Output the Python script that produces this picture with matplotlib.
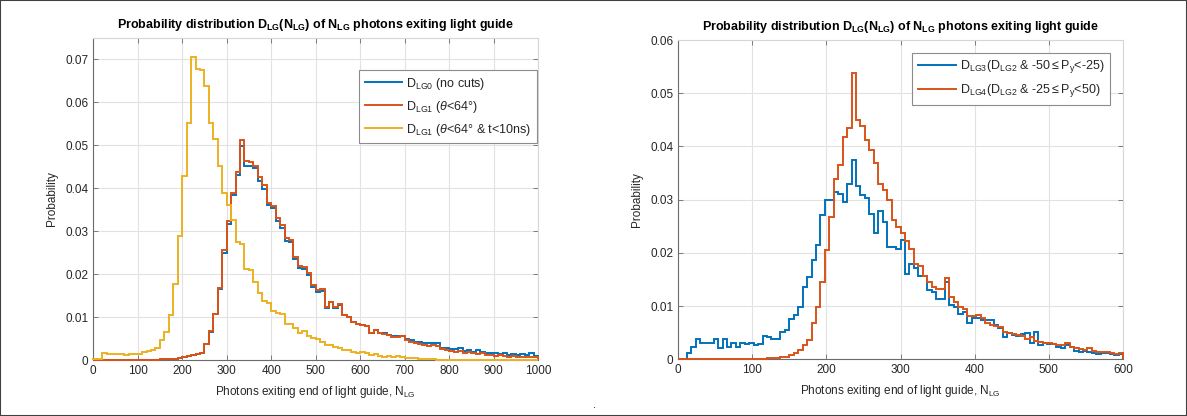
import numpy as np
import matplotlib
matplotlib.use("Agg")
import matplotlib.pyplot as plt
from matplotlib.lines import Line2D
from matplotlib.patches import Rectangle

plt.rcParams["font.family"] = ["Liberation Sans", "DejaVu Sans"]
plt.rcParams["mathtext.fontset"] = "custom"
plt.rcParams["mathtext.rm"] = "Liberation Sans"
plt.rcParams["mathtext.it"] = "Liberation Sans:italic"
plt.rcParams["mathtext.bf"] = "Liberation Sans:bold"

# left panel: 100 bins of width 10 from 0 to 1000
left_edges = np.arange(0, 1001, 10)
lg0_nocuts = [
    0, 0, 0, 0, 0, 0, 0, 0, 0, 0,
    0.0001, 0.0001, 0.0001, 0.0001, 0.0001, 0.0002, 0.0002, 0.0002, 0.0003, 0.0004,
    0.0007, 0.0009, 0.0011, 0.0013, 0.0017, 0.0037, 0.0066, 0.0106, 0.0165, 0.0249,
    0.0316, 0.0384, 0.0432, 0.0499, 0.0451, 0.0451, 0.0447, 0.0418, 0.0399, 0.0360,
    0.0354, 0.0324, 0.0307, 0.0278, 0.0275, 0.0235, 0.0214, 0.0211, 0.0198, 0.0171,
    0.0159, 0.0161, 0.0121, 0.0134, 0.0122, 0.0129, 0.0104, 0.0100, 0.0089, 0.0084,
    0.0082, 0.0080, 0.0063, 0.0071, 0.0063, 0.0062, 0.0059, 0.0056, 0.0055, 0.0057,
    0.0050, 0.0047, 0.0043, 0.0041, 0.0039, 0.0040, 0.0040, 0.0040, 0.0027, 0.0027,
    0.0025, 0.0025, 0.0027, 0.0022, 0.0023, 0.0019, 0.0023, 0.0019, 0.0016, 0.0017,
    0.0016, 0.0014, 0.0016, 0.0012, 0.0014, 0.0012, 0.0014, 0.0012, 0.0016, 0.0010,
]
lg1_theta = [
    0, 0, 0, 0, 0, 0, 0, 0, 0, 0,
    0.0001, 0.0001, 0.0001, 0.0001, 0.0001, 0.0002, 0.0002, 0.0002, 0.0003, 0.0004,
    0.0007, 0.0009, 0.0011, 0.0013, 0.0017, 0.0038, 0.0067, 0.0108, 0.0167, 0.0256,
    0.0323, 0.0390, 0.0439, 0.0512, 0.0463, 0.0460, 0.0453, 0.0426, 0.0408, 0.0365,
    0.0358, 0.0330, 0.0315, 0.0284, 0.0280, 0.0241, 0.0219, 0.0216, 0.0202, 0.0175,
    0.0163, 0.0165, 0.0124, 0.0136, 0.0124, 0.0131, 0.0105, 0.0101, 0.0089, 0.0084,
    0.0082, 0.0079, 0.0062, 0.0070, 0.0062, 0.0061, 0.0058, 0.0054, 0.0053, 0.0056,
    0.0047, 0.0043, 0.0040, 0.0037, 0.0035, 0.0033, 0.0035, 0.0033, 0.0025, 0.0023,
    0.0022, 0.0019, 0.0021, 0.0017, 0.0019, 0.0016, 0.0014, 0.0017, 0.0012, 0.0012,
    0.0009, 0.0011, 0.0009, 0.0008, 0.0009, 0.0006, 0.0008, 0.0006, 0.0008, 0.0006,
]
lg1_theta_t10 = [
    0.0002, 0.0002, 0.0016, 0.0015, 0.0015, 0.0014, 0.0015, 0.0012, 0.0014, 0.0013,
    0.0013, 0.0019, 0.0021, 0.0023, 0.0027, 0.0047, 0.0065, 0.0104, 0.0177, 0.0288,
    0.0429, 0.0551, 0.0706, 0.0678, 0.0675, 0.0639, 0.0551, 0.0515, 0.0451, 0.0389,
    0.0362, 0.0327, 0.0276, 0.0271, 0.0212, 0.0210, 0.0181, 0.0157, 0.0138, 0.0132,
    0.0115, 0.0109, 0.0106, 0.0085, 0.0084, 0.0074, 0.0064, 0.0068, 0.0056, 0.0051,
    0.0048, 0.0043, 0.0035, 0.0035, 0.0031, 0.0027, 0.0023, 0.0023, 0.0019, 0.0017,
    0.0019, 0.0016, 0.0012, 0.0013, 0.0009, 0.0008, 0.0009, 0.0008, 0.0009, 0.0008,
    0.0004, 0.0005, 0.0005, 0.0002, 0.0002, 0.0002, 0.0002, 0.0001, 0.0001, 0.0001,
    0.0001, 0.0001, 0.0001, 0.0001, 0.0001, 0.0001, 0.0001, 0.0001, 0.0001, 0.0001,
    0.0001, 0.0001, 0.0001, 0.0001, 0.0001, 0.0001, 0.0001, 0.0001, 0.0001, 0.0001,
]

# right panel: 100 bins of width 6 from 0 to 600
right_edges = np.arange(0, 601, 6)
lg3_py_low = [
    0.0000, 0.0001, 0.0011, 0.0024, 0.0038, 0.0031, 0.0031, 0.0031, 0.0038, 0.0021,
    0.0039, 0.0023, 0.0030, 0.0023, 0.0030, 0.0028, 0.0031, 0.0027, 0.0029, 0.0044,
    0.0041, 0.0039, 0.0038, 0.0052, 0.0055, 0.0075, 0.0083, 0.0099, 0.0135, 0.0155,
    0.0186, 0.0214, 0.0271, 0.0300, 0.0300, 0.0314, 0.0311, 0.0296, 0.0330, 0.0374,
    0.0325, 0.0308, 0.0303, 0.0273, 0.0238, 0.0279, 0.0258, 0.0211, 0.0211, 0.0208,
    0.0224, 0.0161, 0.0179, 0.0171, 0.0156, 0.0156, 0.0130, 0.0127, 0.0114, 0.0114,
    0.0146, 0.0102, 0.0098, 0.0085, 0.0089, 0.0068, 0.0077, 0.0077, 0.0073, 0.0073,
    0.0074, 0.0064, 0.0058, 0.0041, 0.0049, 0.0046, 0.0043, 0.0048, 0.0049, 0.0030,
    0.0052, 0.0027, 0.0030, 0.0029, 0.0028, 0.0023, 0.0021, 0.0027, 0.0023, 0.0016,
    0.0014, 0.0016, 0.0014, 0.0011, 0.0010, 0.0011, 0.0011, 0.0010, 0.0008, 0.0010,
]
lg4_py_high = [
    0, 0, 0, 0, 0, 0, 0, 0, 0, 0,
    0, 0, 0, 0, 0, 0, 0.0001, 0.0001, 0.0001, 0.0001,
    0.0002, 0.0002, 0.0003, 0.0004, 0.0005, 0.0009, 0.0012, 0.0018, 0.0027, 0.0036,
    0.0068, 0.0099, 0.0146, 0.0205, 0.0268, 0.0338, 0.0366, 0.0418, 0.0435, 0.0538,
    0.0449, 0.0439, 0.0413, 0.0393, 0.0368, 0.0329, 0.0318, 0.0300, 0.0261, 0.0248,
    0.0238, 0.0223, 0.0207, 0.0180, 0.0175, 0.0156, 0.0146, 0.0136, 0.0133, 0.0133,
    0.0153, 0.0118, 0.0108, 0.0099, 0.0094, 0.0082, 0.0082, 0.0083, 0.0077, 0.0068,
    0.0064, 0.0063, 0.0061, 0.0052, 0.0049, 0.0048, 0.0046, 0.0043, 0.0039, 0.0041,
    0.0035, 0.0032, 0.0030, 0.0030, 0.0028, 0.0027, 0.0026, 0.0030, 0.0024, 0.0021,
    0.0019, 0.0018, 0.0021, 0.0016, 0.0014, 0.0013, 0.0013, 0.0011, 0.0010, 0.0011,
]

blue = "#0072BD"
red = "#D95319"
yellow = "#EDB120"
txt = "#262626"

title = r"Probability distribution D$_{\mathbf{LG}}$(N$_{\mathbf{LG}}$) of N$_{\mathbf{LG}}$ photons exiting light guide"
xlab = r"Photons exiting end of light guide, N$_{\mathrm{LG}}$"


def style_axes(ax, xmax, xstep, ymax, ystep):
    ax.set_xlim(0, xmax)
    ax.set_ylim(0, ymax)
    ax.set_xticks(np.arange(0, xmax + 1, xstep))
    yt = np.arange(0, ymax + 1e-9, ystep)
    ax.set_yticks(yt)
    ax.set_yticklabels(["0" if v == 0 else "%g" % round(v, 3) for v in yt])
    ax.grid(True, color="#e2e2e2", lw=0.8)
    ax.set_axisbelow(True)
    for s in ["left", "bottom"]:
        ax.spines[s].set_color("#6b6b6b")
        ax.spines[s].set_linewidth(0.8)
    for s in ["top", "right"]:
        ax.spines[s].set_color("#d6d6d6")
        ax.spines[s].set_linewidth(0.8)
    ax.tick_params(direction="in", length=3.5, width=0.6, color="#6b6b6b",
                   labelsize=8.5, labelcolor=txt, top=True, right=True)
    ax.set_title(title, fontsize=9, fontweight="bold", color="black", pad=7)
    ax.set_xlabel(xlab, fontsize=8.5, color=txt, labelpad=5)
    ax.set_ylabel("Probability", fontsize=8.5, color=txt, labelpad=5)


def add_hist(ax, values, edges, color):
    ax.stairs(values, edges, baseline=0, color=color, lw=1.4, zorder=3, clip_on=False)


def add_legend(ax, colors, labels, anchor):
    handles = [Line2D([], [], color=c, lw=1.4) for c in colors]
    leg = ax.legend(handles, labels, loc="upper right", bbox_to_anchor=anchor, fontsize=9,
                    handlelength=3.0, handletextpad=0.35, labelspacing=0.55, borderpad=0.45,
                    fancybox=False, framealpha=1, edgecolor="#8c8c8c", borderaxespad=0)
    leg.get_frame().set_linewidth(0.8)
    for t in leg.get_texts():
        t.set_color(txt)


fig = plt.figure(figsize=(11.87, 4.16), dpi=100)

ax1 = fig.add_axes([0.0785, 0.1346, 0.3749, 0.7741])
add_hist(ax1, lg0_nocuts, left_edges, blue)
add_hist(ax1, lg1_theta, left_edges, red)
add_hist(ax1, lg1_theta_t10, left_edges, yellow)
style_axes(ax1, 1000, 100, 0.075, 0.01)
add_legend(ax1, [blue, red, yellow],
           [r"D$_{\mathrm{LG0}}$ (no cuts)",
            r"D$_{\mathrm{LG1}}$ ($\theta$<64°)",
            r"D$_{\mathrm{LG1}}$ ($\theta$<64° & t<10ns)"],
           (0.998, 0.9))

ax2 = fig.add_axes([0.5712, 0.1363, 0.3749, 0.7675])
add_hist(ax2, lg3_py_low, right_edges, blue)
add_hist(ax2, lg4_py_high, right_edges, red)
style_axes(ax2, 600, 100, 0.06, 0.01)
add_legend(ax2, [blue, red],
           [r"D$_{\mathrm{LG3}}$(D$_{\mathrm{LG2}}$ & -50$\leq$P$_{\mathrm{y}}$<-25)",
            r"D$_{\mathrm{LG4}}$(D$_{\mathrm{LG2}}$ & -25$\leq$P$_{\mathrm{y}}$<50)"],
           (0.971, 0.96))

fig.text(595 / 1187, 1 - 405 / 416, ".", fontsize=8, color="black", ha="center", va="center")
fig.patches.append(Rectangle((0, 0), 1, 1, transform=fig.transFigure, fill=False,
                             edgecolor="#404040", lw=1.5))

fig.savefig("out.png", dpi=100)
